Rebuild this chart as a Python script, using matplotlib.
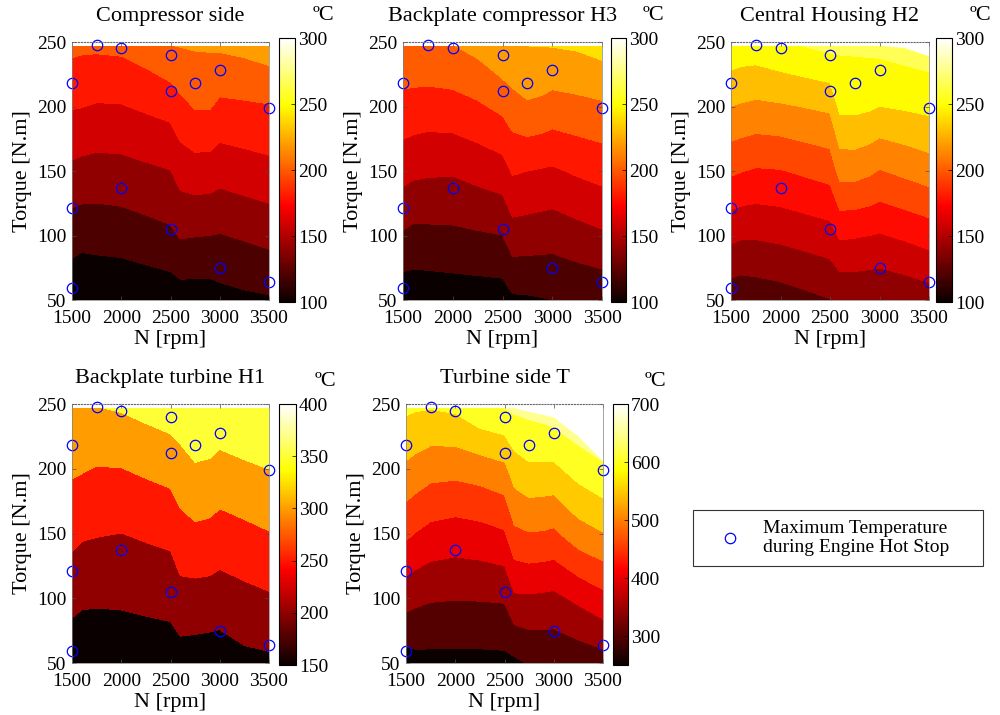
import numpy as np
import matplotlib
matplotlib.use('Agg')
import matplotlib.pyplot as plt
from matplotlib.colors import Normalize
from matplotlib.cm import ScalarMappable
from matplotlib.patches import Polygon
from matplotlib.lines import Line2D

plt.rcParams['font.family'] = ['Liberation Serif', 'DejaVu Serif']

# grid the maps are drawn on
speed = [1500, 1600, 1750, 2000, 2250, 2500, 2600, 2750, 2900, 3000, 3250, 3500]
torque = [50, 100, 150, 200, 247]

# temperatures [degC], one row per torque value
comp_side = [
    [105.0, 101.0, 102.7, 102.6, 105.0, 107.4, 109.7, 109.8, 109.7, 113.0, 115.8, 117.7],
    [128.2, 126.7, 127.4, 129.0, 132.5, 136.0, 141.6, 140.6, 140.0, 139.0, 142.3, 146.1],
    [155.7, 153.7, 152.4, 153.2, 156.3, 159.5, 167.9, 171.3, 170.6, 167.5, 170.9, 173.9],
    [181.2, 180.5, 178.4, 178.9, 182.8, 186.7, 194.6, 201.3, 201.3, 195.6, 197.0, 198.6],
    [204.5, 203.4, 203.2, 204.3, 210.0, 219.5, 220.6, 221.7, 222.2, 223.0, 225.5, 230.3]]
backplate_comp = [
    [106.3, 106.5, 107.2, 108.6, 109.2, 109.9, 116.6, 117.4, 118.8, 120.0, 122.3, 124.2],
    [137.5, 134.6, 135.0, 135.7, 137.7, 139.7, 151.2, 150.1, 148.8, 147.7, 152.3, 157.0],
    [167.0, 164.2, 162.8, 162.1, 166.8, 171.5, 182.1, 180.0, 178.3, 177.2, 182.6, 186.9],
    [193.5, 192.3, 190.9, 192.3, 197.0, 204.7, 211.5, 217.5, 215.3, 212.0, 214.4, 216.9],
    [216.2, 216.8, 217.7, 219.4, 226.0, 238.0, 239.3, 240.0, 240.3, 240.6, 242.4, 247.1]]
central_housing = [
    [128.3, 127.0, 128.8, 131.2, 135.3, 139.4, 142.0, 142.6, 141.9, 141.7, 144.4, 148.2],
    [162.2, 160.3, 159.9, 162.1, 165.3, 168.5, 178.5, 177.4, 176.0, 174.5, 178.8, 183.8],
    [196.8, 194.7, 192.2, 193.1, 196.9, 200.7, 218.3, 218.5, 215.0, 210.9, 216.0, 220.9],
    [229.8, 228.2, 226.2, 227.9, 230.6, 233.3, 252.3, 252.4, 250.5, 247.8, 250.0, 252.4],
    [259.8, 258.2, 257.8, 262.6, 266.5, 270.5, 268.4, 268.8, 269.7, 270.7, 273.5, 276.1]]
backplate_turb = [
    [164.3, 161.3, 161.0, 165.5, 168.5, 171.4, 176.4, 175.0, 172.1, 172.1, 186.6, 190.3],
    [215.3, 208.5, 206.9, 207.6, 211.9, 216.1, 233.4, 231.8, 230.2, 226.2, 236.1, 244.1],
    [263.9, 255.8, 252.7, 249.6, 256.0, 262.3, 280.9, 290.0, 286.7, 279.2, 288.3, 297.8],
    [306.8, 303.6, 297.9, 299.0, 307.7, 316.4, 329.8, 344.6, 341.3, 333.3, 342.4, 350.3],
    [343.7, 345.5, 348.4, 354.1, 364.5, 374.9, 379.8, 395.2, 392.4, 385.6, 393.5, 398.0]]
turb_side = [
    [276.1, 283.8, 284.7, 284.8, 285.1, 286.5, 290.0, 303.7, 306.7, 307.8, 316.7, 326.8],
    [370.9, 361.1, 354.4, 352.0, 353.0, 355.2, 391.7, 393.1, 390.0, 387.7, 410.0, 434.8],
    [459.6, 448.1, 434.5, 426.9, 432.8, 444.4, 489.1, 497.8, 495.5, 490.9, 528.3, 547.7],
    [541.0, 531.5, 518.3, 515.5, 523.3, 537.5, 575.0, 591.7, 590.0, 589.3, 620.7, 642.9],
    [608.6, 604.4, 601.9, 608.7, 638.5, 650.0, 658.9, 663.6, 670.7, 678.8, 695.0, 700.0]]

# upper edge of the measured region for each speed
top_full = [247] * 12
top_h2 = [247, 247, 247, 247, 247, 247, 247, 247, 247, 247, 245.5, 239]
top_t = [247, 247, 247, 247, 247, 247, 247, 244, 241.5, 239.7, 225, 206]

# operating points of maximum temperature during hot stop
peak_N = [1500, 1500, 1500, 1750, 2000, 2000, 2500, 2500, 2500, 2750, 3000, 3000, 3500, 3500]
peak_T = [59, 121, 218, 248, 245, 137, 240, 212, 105, 218, 228, 75, 199, 64]

titles = ['Compressor side', 'Backplate compressor H3', 'Central Housing H2',
          'Backplate turbine H1', 'Turbine side T']
fields = [comp_side, backplate_comp, central_housing, backplate_turb, turb_side]
levels = [list(range(100, 320, 20)), list(range(100, 320, 20)),
          list(range(122, 300, 18)), list(range(150, 450, 50)),
          list(range(250, 750, 50))]
clims = [(100, 300), (100, 300), (100, 300), (150, 400), (250, 700)]
cticks = [[100, 150, 200, 250, 300]] * 3 + [[150, 200, 250, 300, 350, 400],
                                            [300, 400, 500, 600, 700]]
tops = [top_full, top_full, top_h2, top_full, top_t]

ax_pos = [[0.072, 0.5804, 0.197, 0.3608], [0.403, 0.5804, 0.199, 0.3608],
          [0.731, 0.5804, 0.198, 0.3608], [0.072, 0.0727, 0.197, 0.3622],
          [0.406, 0.0727, 0.197, 0.3622]]
cb_pos = [[0.279, 0.5776, 0.016, 0.3692], [0.611, 0.5776, 0.015, 0.3692],
          [0.936, 0.5776, 0.016, 0.3692], [0.279, 0.0699, 0.017, 0.365],
          [0.613, 0.0699, 0.015, 0.365]]

fig = plt.figure(figsize=(10, 7.15), dpi=100)

for k in range(5):
    ax = fig.add_axes(ax_pos[k])
    lo, hi = clims[k]
    norm = Normalize(lo, hi)
    lev = levels[k]
    cols = plt.cm.hot(norm(np.array(lev[:-1], dtype=float)))
    cs = ax.contourf(speed, torque, np.array(fields[k]), levels=lev, colors=cols)
    edge = np.column_stack([speed + speed[::-1], [50] * len(speed) + tops[k][::-1]])
    clip = Polygon(edge, closed=True, transform=ax.transData, fc='none', ec='none')
    cs.set_clip_path(clip)
    ax.plot(peak_N, peak_T, 'o', mfc='none', mec='b', ms=7.5, mew=0.9, clip_on=False)

    ax.set_xlim(1500, 3500)
    ax.set_ylim(50, 250)
    ax.set_xticks([1500, 2000, 2500, 3000, 3500])
    ax.set_yticks([50, 100, 150, 200, 250])
    ax.tick_params(direction='in', length=3, width=0.5, color='0.3',
                   labelsize=14, top=True, right=True)
    ax.tick_params(axis='x', pad=7)
    ax.tick_params(axis='y', pad=4)
    for s in ['left', 'right', 'bottom']:
        ax.spines[s].set_linewidth(0.5)
        ax.spines[s].set_color('0.5')
    ax.spines['top'].set_linestyle(':')
    ax.spines['top'].set_color('0.4')
    ax.spines['top'].set_linewidth(0.8)
    ax.set_title(titles[k], fontsize=16, pad=15)
    ax.set_xlabel('N [rpm]', fontsize=16, labelpad=2)
    ax.set_ylabel('Torque [N.m]', fontsize=16, labelpad=4)

    cax = fig.add_axes(cb_pos[k])
    cb = fig.colorbar(ScalarMappable(norm=norm, cmap='hot'), cax=cax, ticks=cticks[k])
    cax.tick_params(direction='in', length=3, width=0.5, labelsize=14, pad=2)
    cb.outline.set_linewidth(0.8)
    cax.text(2.1, 1.085, 'ºC', transform=cax.transAxes, fontsize=16,
             ha='left', va='center')

marker = Line2D([], [], ls='none', marker='o', mfc='none', mec='b', ms=7.5, mew=0.9)
leg = fig.legend(handles=[marker], labels=['Maximum Temperature\nduring Engine Hot Stop'],
                 loc='center', bbox_to_anchor=(0.693, 0.2042, 0.29, 0.0867),
                 mode='expand', borderaxespad=0, fontsize=14, fancybox=False,
                 edgecolor='k', borderpad=0.5, handlelength=2.8, handletextpad=0.3)
leg.get_frame().set_linewidth(0.8)

fig.savefig('out.png', dpi=100)
